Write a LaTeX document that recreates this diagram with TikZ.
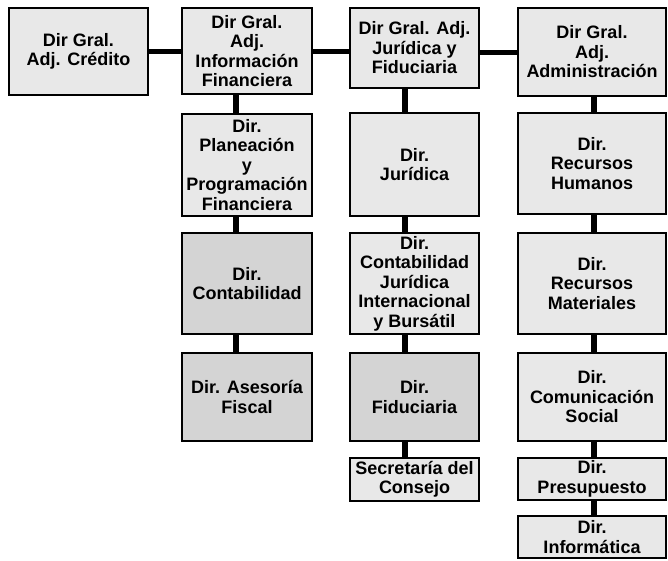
\documentclass[tikz,border=0pt]{standalone}
\usepackage{fontspec}
\setmainfont{Liberation Sans}
\newcommand\unitfont{\bfseries\fontsize{18}{19.5}\selectfont\lineskiplimit=-20pt\relax}
\tikzset{
  unit/.style={draw, line width=2pt, fill=gray!18, align=center, inner sep=0pt,
    font=\unitfont},
  dense/.style={fill=gray!34},
  boxsize/.style 2 args={minimum width=#1pt, minimum height=#2pt},
  hlink/.style={line width=5pt},
  vlink/.style={line width=6pt},
}

\begin{document}
\begin{tikzpicture}[x=1pt, y=-1pt]
        \useasboundingbox (0,0) rectangle (668,560);

        % top row
        \node[unit, boxsize={139}{87}] (credito) at (78.5,51.5) {Dir Gral.\\Adj. Crédito};
        \node[unit, boxsize={130}{86}] (infofin) at (247,51) {Dir Gral.\\Adj.\\Información\\Financiera};
        \node[unit, boxsize={129}{80}] (juridfid) at (414.5,48) {Dir Gral. Adj.\\Jurídica y\\Fiduciaria};
        \node[unit, boxsize={148}{88}] (admin) at (592,52) {Dir Gral.\\Adj.\\Administración};

        % informacion financiera
        \node[unit, boxsize={130}{102}] (planea) at (247,165) {Dir.\\Planeación\\y\\Programación\\Financiera};
        \node[unit, dense, boxsize={130}{101}] (contab) at (247,283.5) {Dir.\\Contabilidad};
        \node[unit, dense, boxsize={130}{88}] (asesoria) at (247,397) {Dir. Asesoría\\Fiscal};

        % juridica y fiduciaria
        \node[unit, boxsize={129}{103}] (juridica) at (414.5,164.5) {Dir.\\Jurídica};
        \node[unit, boxsize={129}{101}] (contjur) at (414.5,283.5) {Dir.\\Contabilidad\\Jurídica\\Internacional\\y Bursátil};
        \node[unit, dense, boxsize={129}{88}] (fiduc) at (414.5,397) {Dir.\\Fiduciaria};
        \node[unit, boxsize={129}{43}] (secret) at (414.5,479.5) {Secretaría del\\Consejo};

        % administracion
        \node[unit, boxsize={148}{101}] (rhum) at (592,163.5) {Dir.\\Recursos\\Humanos};
        \node[unit, boxsize={148}{101}] (rmat) at (592,283.5) {Dir.\\Recursos\\Materiales};
        \node[unit, boxsize={148}{88}] (comsoc) at (592,397) {Dir.\\Comunicación\\Social};
        \node[unit, boxsize={148}{42}] (presup) at (592,479) {Dir.\\Presupuesto};
        \node[unit, boxsize={148}{42}] (informat) at (592,537) {Dir.\\Informática};

        % links
        \draw[hlink] (credito.east) -- (credito.east -| infofin.west)
                     (infofin.east) -- (infofin.east -| juridfid.west)
                     (admin.west) -- (admin.west -| juridfid.east);
        \draw[vlink] ([xshift=-11pt]infofin.south) -- ([xshift=-11pt]planea.north)
                     ([xshift=-11pt]planea.south) -- ([xshift=-11pt]contab.north)
                     ([xshift=-11pt]contab.south) -- ([xshift=-11pt]asesoria.north)
                     ([xshift=-10pt]juridfid.south) -- ([xshift=-10pt]juridica.north)
                     ([xshift=-10pt]juridica.south) -- ([xshift=-10pt]contjur.north)
                     ([xshift=-10pt]contjur.south) -- ([xshift=-10pt]fiduc.north)
                     ([xshift=-10pt]fiduc.south) -- ([xshift=-10pt]secret.north)
                     ([xshift=2pt]admin.south) -- ([xshift=2pt]rhum.north)
                     ([xshift=2pt]rhum.south) -- ([xshift=2pt]rmat.north)
                     ([xshift=2pt]rmat.south) -- ([xshift=2pt]comsoc.north)
                     ([xshift=2pt]comsoc.south) -- ([xshift=2pt]presup.north)
                     ([xshift=2pt]presup.south) -- ([xshift=2pt]informat.north);

\end{tikzpicture}
\end{document}
